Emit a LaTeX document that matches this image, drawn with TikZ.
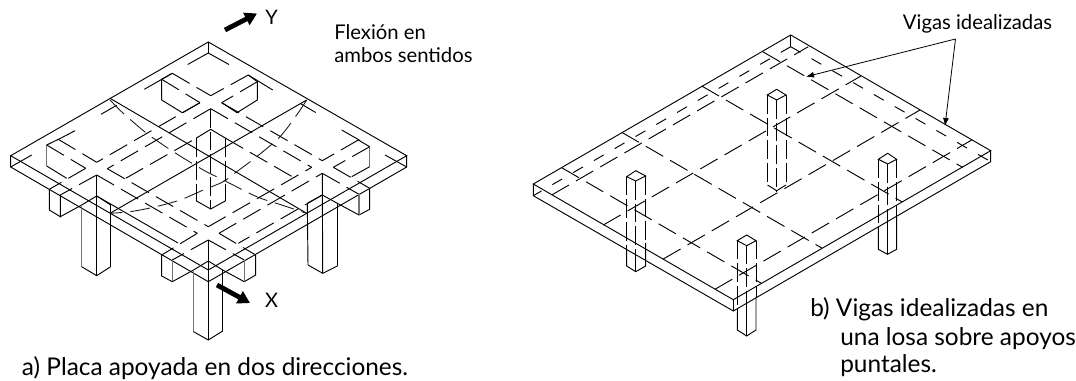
\documentclass[tikz,border=0pt]{standalone}
\usepackage{fontspec}
\setmainfont{Lato}
\usetikzlibrary{arrows.meta}
\tikzset{
  ln/.style={line width=0.7pt,black},
  gy/.style={line width=0.9pt,black!55},
  hd/.style={line width=0.7pt,black,dash pattern=on 15pt off 6pt},
  hds/.style={line width=0.7pt,black,dash pattern=on 8.5pt off 9.5pt},
  hdb/.style={line width=0.65pt,black!90,dash pattern=on 15pt off 6pt},
  vh/.style={line width=0.7pt,black,dash pattern=on 14pt off 3pt},
  thick arrow/.style={line width=3.6pt,black,-{Triangle[width=10pt,length=9pt]}},
  thin arrow/.style={line width=0.6pt,black,-{Latex[width=4.5pt,length=6pt]}},
  captxt/.style={anchor=base west,inner sep=0pt,font=\fontsize{18.3pt}{20pt}\selectfont},
  lab/.style={anchor=base west,inner sep=0pt,font=\fontsize{15.2pt}{17pt}\selectfont},
  axl/.style={anchor=center,inner sep=0pt,font=\fontsize{15pt}{17pt}\selectfont}
}
\begin{document}
\begin{tikzpicture}[x=0.75pt,y=-0.75pt]
\useasboundingbox (0,0) rectangle (1076,381);
% ===== LEFT FIGURE =====
% slab
\draw[ln] (208.3,42)--(10.7,155.7)--(208.3,270)--(406.7,155.7)--cycle;
\draw[ln] (10.7,155.7)--(10.7,167)--(208.3,281.7)--(406.7,167)--(406.7,155.7);
\draw[ln] (208.3,42)--(208.3,53);
% hidden lower edges
\draw[ln] (208.3,53)--(187.7,64.5) (172.3,73.3)--(144.3,89.3) (116.7,105.3)--(101,114.3) (75,130.7)--(57.3,140) (31.7,155)--(10.7,167);
\draw[ln] (208.3,53)--(229,64.5) (248.3,75)--(272.7,90) (300,103.3)--(315.7,112.5) (341.7,130)--(360,140.5) (385,155)--(406.7,167);
% mid lines
\draw[ln] (110,98.3)--(306.7,213.3);
\draw[ln] (306.7,100)--(110,213.3);
% deflection curves
\draw[hdb] plot[smooth] coordinates {(110,100) (123.3,113.3) (146.7,133.3) (173.3,151.7) (203.3,170) (223.3,180) (256.7,196.7) (281.7,205) (306.7,213.3)};
\draw[hdb] plot[smooth] coordinates {(306.7,100) (296.7,115) (280,136.7) (256.7,156.7) (236.7,171.7) (223.3,181.7) (203.3,190) (180,200) (153.3,207.3) (130,211.7) (110,213.3)};
% beam grid
\draw[hd] (200,102.7)--(96.7,162.3);
\draw[hd] (210.7,108.7)--(107.3,168.7);
\draw[hd] (208.3,226.7)--(311.7,167.3);
\draw[hd] (219,233.3)--(322.3,173.3);
\draw[hd] (221.7,102.7)--(322.3,160.7);
\draw[hd] (210.7,108.7)--(311.7,167.3);
\draw[hd] (107.3,168.7)--(208.3,226.7);
\draw[hd] (96.7,175)--(197.3,233.3);
% beam ends toward the front
\draw[hd] (197.3,233.3)--(161.7,255);
\draw[hd] (208.3,240)--(172.3,260);
\draw[hd] (219,233.3)--(255.7,255);
\draw[hd] (208.3,240)--(244.3,260);
\draw[hd] (96.7,175)--(60.3,195);
\draw[hd] (85.7,168.3)--(49.3,189.3);
\draw[hd] (322.3,173.3)--(359,194.3);
\draw[hd] (333.3,167.3)--(369.7,188.3);
% back-left box
\draw[ln] (172.3,73.3)--(161.7,79.3)--(161.7,100)--(182.3,112.7);
\draw[hd] (182.3,112.7)--(200,102.7);
\draw[hd] (172.3,73.3)--(210.7,95.7);
\draw[hd] (161.7,79.3)--(200,102.7);
% left box
\draw[ln] (58.3,139.3)--(46.7,145);
\draw[gy] (46.7,145)--(46.7,166);
\draw[ln] (46.7,166)--(66.7,178.3);
\draw[hd] (58.3,139.3)--(96.7,162.3);
\draw[hd] (46.7,145)--(85.7,168.3);
% back-right box
\draw[ln] (248.3,75)--(257.3,81.7)--(257.3,100)--(237,112.7);
\draw[hd] (237,112.7)--(221.7,102.7);
\draw[hd] (248.3,75)--(210.7,95.7);
\draw[hd] (257.3,81.7)--(221.7,102.7);
% right box
\draw[ln] (358.3,140)--(369.7,146.7);
\draw[gy] (369.7,146.7)--(369.7,166.7);
\draw[ln] (369.7,166.7)--(351.7,176.7);
\draw[hd] (358.3,140)--(322.3,160.7);
\draw[hd] (369.7,146.7)--(333.3,167.3);
% beam stubs outside the slab
\draw[ln] (49.3,189.3)--(49.3,210)--(60.3,216.7)--(60.3,195);
\draw[ln] (60.3,216.7)--(81.7,205);
\draw[ln] (161.7,255)--(161.7,276)--(172.3,281.7);
\draw[gy] (172.3,281.7)--(172.3,260);
\draw[ln] (172.3,281.7)--(193.5,270);
\draw[ln] (255.7,255)--(255.7,275)--(244.3,281.7);
\draw[gy] (244.3,281.7)--(244.3,260);
\draw[ln] (244.3,281.7)--(222.7,270);
\draw[ln] (369.7,188.3)--(369.7,209.3)--(359,215);
\draw[gy] (359,215)--(359,194.3);
\draw[ln] (359,215)--(337.3,203.3);
% inner lines toward the columns
\draw[hd] (125.7,178.3)--(196,138.3);
\draw[hd] (225.7,138.3)--(293.3,177.3);
\draw[ln] (96.7,196)--(178,243);
\draw[hd] (322.3,195)--(238.3,243.3);
% left column
\draw[gy] (81.7,205)--(81.7,266.7);
\draw[ln] (96.7,175)--(96.7,275.7);
\draw[ln] (110.7,205)--(110.7,266.7);
\draw[ln] (81.7,205)--(96.7,196)--(110.7,205);
\draw[ln] (81.7,266.7)--(96.7,275.7)--(110.7,266.7);
% right column
\draw[ln] (307.3,203.3)--(308,265);
\draw[ln] (322.3,173.3)--(322.7,273.3);
\draw[ln] (337.3,203.3)--(337.3,266);
\draw[ln] (307.3,203.3)--(322.3,195)--(337.3,203.3);
\draw[ln] (308,265)--(322.7,273.3)--(337.3,266);
% front column
\draw[gy] (193.5,270)--(193.5,331.7);
\draw[ln] (208.3,240)--(208.3,340);
\draw[ln] (222.7,270)--(222.7,331);
\draw[ln] (193.5,270)--(208.3,261)--(222.7,270);
\draw[ln] (193.5,331.7)--(208.3,340)--(222.7,331);
% centre column (hidden)
\draw[vh] (196,138.3)--(196,200.7);
\draw[vh] (210.7,109)--(210.7,209);
\draw[vh] (225.7,138.3)--(225.7,200.7);
\draw[ln] (196,138.3)--(210.7,129.3)--(225.7,138.3);
\draw[ln] (196,200.7)--(210.7,209)--(225.7,200.7);
% axes
\coordinate (yfrom) at (225,30);
\coordinate (yto) at (257,13.5);
\coordinate (xfrom) at (217,285);
\coordinate (xto) at (250,303);
\draw[thick arrow] (yfrom)--(yto);
\draw[thick arrow] (xfrom)--(xto);
\node[axl] (ylabel) at (271.5,17) {Y};
\node[axl] (xlabel) at (271.5,300) {X};
% labels
\node[lab] (flex1) at (334,40) {Flexión en};
\node[lab] (flex2) at (334,63) {ambos sentidos};
\node[captxt] (capa) at (21.7,375) {a) Placa apoyada en dos direcciones.};
% ===== RIGHT FIGURE =====
\draw[ln] (790.7,35)--(533.3,184)--(733.3,299.7)--(990.7,150.7)--cycle;
\draw[ln] (533.3,184)--(533.3,195.7)--(733.3,311)--(990.7,161.7)--(990.7,150.7);
\draw[ln] (790.7,35)--(790.7,46.7);
\draw[ln] (733.3,299.7)--(733.3,311);
% hidden lower edges
\draw[hds] (790.7,46.7)--(533.3,195.7);
\draw[hds] (790.7,46.7)--(990.7,161.7);
% idealized beams
\draw[hd] (561.7,167.7)--(761.7,283.5);
\draw[hd] (621.7,132.3)--(821.7,248);
\draw[hd] (701.7,86)--(901.7,201.7);
\draw[hd] (762.7,51.7)--(962.7,167.4);
\draw[hd] (551.7,195)--(808.3,46.7);
\draw[hd] (603.3,225)--(861,76);
\draw[hd] (663.3,259)--(920,110);
\draw[hd] (715,289.3)--(971.7,140);
% column 1
\draw[ln] (626.7,176.7)--(635.7,170.7)--(645.7,176)--(635.7,181)--cycle;
\draw[vh] (626.7,176.7)--(626.7,250);
\draw[vh] (635.7,181)--(635.7,254);
\draw[vh] (645.7,176)--(645.7,243);
\draw[ln] (626.7,250)--(626.7,266)--(635.7,271.7)--(645.7,266)--(645.7,243);
\draw[ln] (635.7,254)--(635.7,271.7);
% column 2
\draw[ln] (737.3,240.7)--(746.7,235)--(756,240.7)--(746.7,245.7)--cycle;
\draw[vh] (737.3,240.7)--(737.3,312);
\draw[vh] (746.7,245.7)--(746.7,302);
\draw[vh] (756,240.7)--(756,297);
\draw[ln] (737.3,312)--(737.3,330)--(746.7,336)--(756,330)--(756,297);
\draw[ln] (746.7,302)--(746.7,336);
% column 3
\draw[ln] (767.3,95)--(776.7,89.3)--(786,95)--(776.7,100)--cycle;
\draw[vh] (767.5,95)--(767.5,185);
\draw[vh] (776.7,100)--(776.7,190.7);
\draw[vh] (786,95)--(786,185);
\draw[ln] (767.5,185)--(776.7,190.7)--(786,185);
% column 4
\draw[ln] (878.3,159.3)--(887.7,153.3)--(896.7,159.3)--(887.7,164)--cycle;
\draw[vh] (878.3,159.3)--(878.3,227);
\draw[vh] (887.5,164)--(887.5,222);
\draw[vh] (896.7,159.3)--(896.7,216);
\draw[ln] (878.3,227)--(878.3,249.3)--(887.5,254.3)--(896.7,249.3)--(896.7,216);
\draw[ln] (887.5,222)--(887.5,254.3);
% arrows to the beams
\coordinate (apex) at (955.5,39);
\coordinate (tipa) at (806,76.7);
\coordinate (tipb) at (945,126);
\draw[thin arrow] (apex)--(tipa);
\draw[thin arrow] (apex)--(tipb);
% text
\node[lab] (vigas) at (902.7,30) {Vigas idealizadas};
\node[captxt] (capb1) at (810,316.7) {b) Vigas idealizadas en};
\node[captxt] (capb2) at (840,345) {una losa sobre apoyos};
\node[captxt] (capb3) at (840,373) {puntales.};
\end{tikzpicture}
\end{document}
